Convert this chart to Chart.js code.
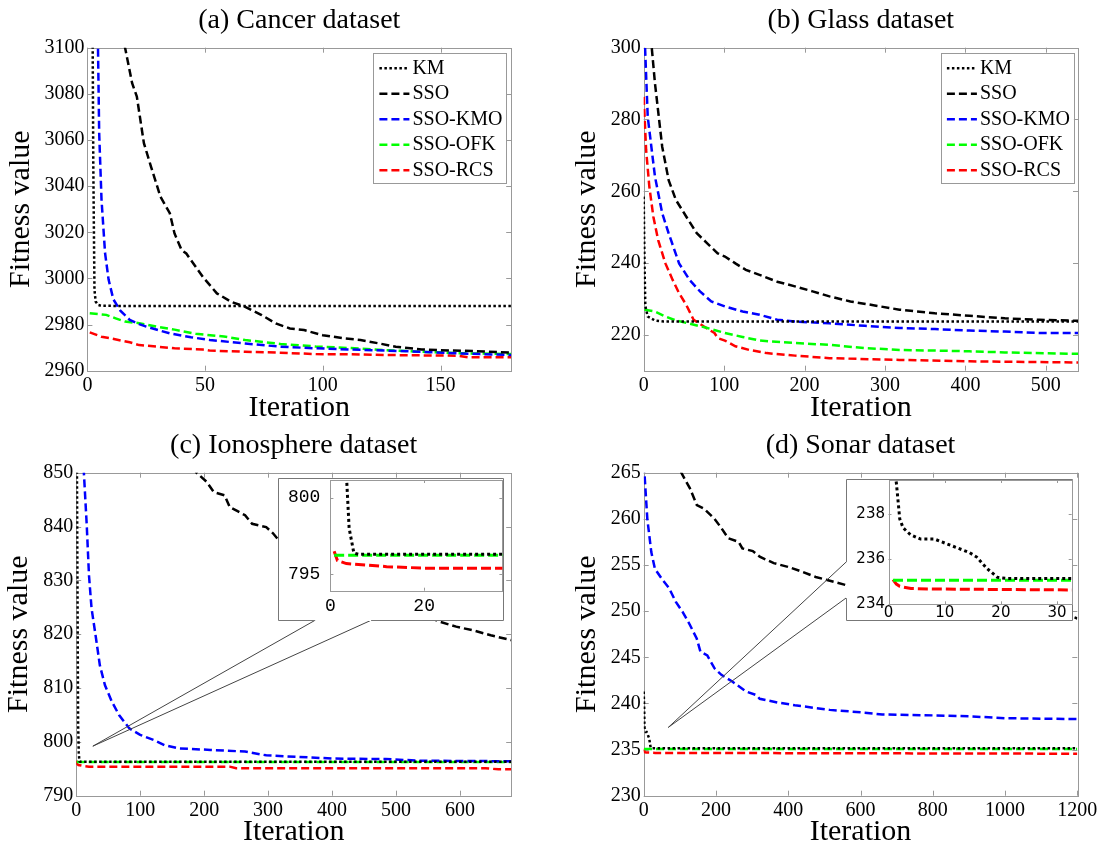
<!DOCTYPE html>
<html>
<head>
<meta charset="utf-8">
<script src="https://cdn.jsdelivr.net/npm/chart.js@4.4.0/dist/chart.umd.min.js"></script>
<style>
  html, body { margin: 0; padding: 0; background: #fff; }
  #page { position: relative; width: 1100px; height: 849px; overflow: hidden; }
  .panel { position: absolute; }
  canvas { display: block; }
</style>
</head>
<body>
<div id="page">
  <div class="panel" style="left:0;top:0"><canvas id="chartA" width="550" height="425"></canvas></div>
  <div class="panel" style="left:550px;top:0"><canvas id="chartB" width="550" height="425"></canvas></div>
  <div class="panel" style="left:0;top:425px"><canvas id="chartC" width="550" height="424"></canvas></div>
  <div class="panel" style="left:550px;top:425px"><canvas id="chartD" width="550" height="424"></canvas></div>
  <div class="panel" style="left:278px;top:478px"><canvas id="insetC" width="226" height="143"></canvas></div>
  <div class="panel" style="left:846px;top:479px"><canvas id="insetD" width="227" height="142"></canvas></div>
</div>
<script>
// series names and looks
var seriesNames = ["KM", "SSO", "SSO-KMO", "SSO-OFK", "SSO-RCS"];
var seriesColors = ["#000000", "#000000", "#0000ff", "#00ff00", "#ff0000"];

// (a) Cancer dataset
var cancerKmIter = [0, 2, 2.5, 3, 3.5, 4.5, 6, 180];
var cancerKm = [3300, 3150, 3050, 2995, 2990, 2988.5, 2988.1, 2988];
var cancerSsoIter = [0, 5, 10, 16, 19, 21, 24, 27, 31, 35, 37, 40, 42, 45, 49, 55, 61, 67, 74, 80, 86, 92, 100, 109, 116, 124, 131, 142, 150, 164, 180];
var cancerSso = [3350, 3220, 3150, 3100, 3084.6, 3078.8, 3058.6, 3048.5, 3035.5, 3028.3, 3019.5, 3012.3, 3010.8, 3006.5, 3000.7, 2993.5, 2989.9, 2987.7, 2984.1, 2980.5, 2978.3, 2977.6, 2975.4, 2974, 2973.3, 2971.8, 2970.4, 2969.2, 2968.9, 2968.5, 2967.8];
var cancerKmoIter = [0, 3, 4.5, 5, 6, 7.5, 9, 11, 14, 18, 22, 25, 30, 35, 44, 52, 67, 82, 97, 112, 127, 142, 157, 180];
var cancerKmo = [3500, 3200, 3100, 3063, 3034, 3011, 2999.5, 2991, 2986, 2982, 2980.2, 2979.1, 2977.6, 2976.2, 2974.5, 2973.3, 2971.8, 2970.4, 2969.7, 2969.2, 2968.7, 2968.2, 2967.5, 2966.8];
var cancerOfkIter = [1, 8, 12, 16, 22, 30, 37, 46, 58, 67, 82, 97, 112, 127, 142, 157, 180];
var cancerOfk = [2984.9, 2984.2, 2982.7, 2981.3, 2980.6, 2979, 2977.8, 2976, 2974.8, 2973.3, 2971.6, 2970.5, 2969.8, 2968.9, 2968.2, 2967.6, 2967.2];
var cancerRcsIter = [1, 6, 10, 18, 22, 30, 37, 49, 52, 67, 82, 97, 112, 127, 157, 162, 180];
var cancerRcs = [2976.6, 2974.7, 2974, 2972.3, 2971.1, 2970.4, 2969.7, 2969.2, 2968.7, 2968.2, 2967.8, 2967.2, 2967.1, 2966.8, 2966.5, 2965.8, 2965.8];

// (b) Glass dataset
var glassKmIter = [0, 1, 2, 5, 14, 25, 540];
var glassKm = [258.5, 240, 228, 225.1, 224, 223.7, 223.7];
var glassSsoIter = [0, 5, 10, 14, 23, 31, 40, 53, 66, 79, 92, 101, 114, 127, 144, 166, 188, 210, 231, 257, 284, 318, 362, 405, 449, 492, 540];
var glassSso = [360, 325, 300, 290.1, 272.4, 263.1, 257.6, 252.9, 248.3, 245.5, 242.7, 241.8, 239.9, 238.1, 236.7, 234.8, 233.5, 232.1, 230.7, 229.3, 228.3, 227, 226, 225.3, 224.6, 224.2, 223.9];
var glassKmoIter = [0, 1.7, 5, 10, 14, 23, 31, 44, 57, 70, 84, 101, 123, 144, 166, 188, 231, 275, 318, 362, 405, 449, 492, 540];
var glassKmo = [320, 300, 280.8, 271.5, 264.1, 253.9, 248.3, 239.9, 235.3, 232.1, 229.3, 227.9, 226.5, 225.6, 224.2, 223.7, 223.2, 222.5, 221.9, 221.6, 221.2, 220.9, 220.5, 220.5];
var glassOfkIter = [1, 14, 27, 40, 57, 79, 101, 123, 144, 188, 231, 275, 318, 362, 405, 449, 540];
var glassOfk = [227, 226.5, 225.1, 224, 223.1, 221.9, 220.5, 219.4, 218.4, 217.7, 217.2, 216.3, 215.8, 215.6, 215.4, 215.1, 214.7];
var glassRcsIter = [0, 3, 7, 12, 18, 27, 36, 44, 53, 62, 75, 88, 92, 101, 114, 131, 153, 188, 231, 318, 405, 540];
var glassRcs = [286.3, 271.5, 261.3, 252.9, 246.4, 239.9, 235.3, 231.6, 228.3, 224.2, 222.3, 220.5, 219.1, 218.4, 216.8, 215.8, 214.9, 214.2, 213.5, 213, 212.6, 212.3];

// (c) Ionosphere dataset
var ionoKmIter = [0, 3, 3.5, 4, 5, 6, 680];
var ionoKm = [880, 803, 801, 798, 796.4, 796.3, 796.3];
var ionoSsoIter = [0, 100, 150, 188, 204, 215, 232, 240, 253, 264, 275, 297, 308, 317, 400, 480, 566, 594, 621, 648, 680];
var ionoSso = [980, 875, 860, 850, 848.3, 846.4, 845.8, 843.6, 842.8, 842.1, 840.5, 839.9, 838.7, 837.4, 832, 827, 822.4, 821.4, 820.7, 819.8, 818.9];
var ionoKmoIter = [0, 12, 16.5, 20, 24, 31, 37, 45, 56, 67, 83, 100, 122, 138, 160, 210, 264, 297, 347, 402, 484, 539, 680];
var ionoKmo = [900, 850, 840.2, 830.9, 824.8, 819.2, 814.2, 810.5, 807.4, 805, 802.5, 801.3, 800.3, 799.4, 798.8, 798.5, 798.2, 797.5, 797.2, 796.9, 796.8, 796.5, 796.4];
var ionoOfkIter = [0.8, 680];
var ionoOfk = [796.25, 796.25];
var ionoRcsIter = [0.8, 1.5, 3.4, 8, 12, 20, 240, 250, 640, 660, 680];
var ionoRcs = [796.5, 795.9, 795.7, 795.6, 795.5, 795.4, 795.4, 795.1, 795.1, 794.9, 794.9];
var ionoZoomPoint = [26, 799.2];

// (d) Sonar dataset
var sonarKmIter = [0, 1, 1.4, 1.7, 2, 2.6, 3.9, 5.7, 8.2, 11.3, 14.4, 15.7, 17.5, 19.4, 21, 1200];
var sonarKm = [241.3, 240, 239.4, 238.6, 237.8, 237.4, 237.1, 236.9, 236.9, 236.6, 236.3, 236.1, 235.6, 235.2, 235.15, 235.15];
var sonarSsoIter = [0, 50, 104, 118, 128, 147, 167, 196, 215, 234, 263, 273, 302, 321, 360, 399, 437, 476, 505, 600, 800, 1000, 1187, 1200];
var sonarSso = [300, 280, 265, 264, 263.3, 261.5, 261.1, 260, 259, 257.9, 257.5, 256.8, 256.5, 255.9, 255.2, 254.8, 254.3, 253.7, 253.4, 252.4, 251, 250, 249.4, 249.2];
var sonarKmoIter = [0, 2, 10, 21, 31, 50, 70, 89, 108, 128, 147, 157, 176, 196, 215, 244, 283, 312, 321, 370, 418, 476, 515, 612, 660, 805, 902, 999, 1200];
var sonarKmo = [275, 265, 260, 256.4, 254.6, 253.5, 252.5, 251, 249.9, 248.5, 247, 245.6, 245.2, 243.8, 243.1, 242.4, 241.3, 240.9, 240.5, 240.1, 239.8, 239.5, 239.3, 239, 238.8, 238.7, 238.6, 238.4, 238.3];
var sonarOfkIter = [0.8, 1200];
var sonarOfk = [235.07, 235.07];
var sonarRcsIter = [0.8, 1.4, 2, 4, 8, 32, 1200];
var sonarRcs = [235.1, 234.9, 234.8, 234.7, 234.68, 234.64, 234.55];
var sonarZoomPoint = [68, 237.4];

var serif = "'Liberation Serif', 'Times New Roman', serif";
Chart.defaults.font.family = serif;
Chart.defaults.color = "#000";

function makeDatasets(iters, vals, width, dotDash, lineDash) {
  var sets = [];
  for (var i = 0; i < seriesNames.length; i++) {
    var pts = [];
    for (var j = 0; j < iters[i].length; j++) {
      pts.push({ x: iters[i][j], y: vals[i][j] });
    }
    sets.push({
      label: seriesNames[i],
      data: pts,
      borderColor: seriesColors[i],
      borderWidth: width,
      borderDash: i === 0 ? dotDash : lineDash,
      borderCapStyle: "butt",
      pointRadius: 0,
      fill: false,
      tension: 0
    });
  }
  return sets;
}

// plain numbers, no thousands separator
function plainTick(v) { return String(v); }

// box round the plot with small inward ticks on every side
var frameTicks = {
  id: "frameTicks",
  beforeDatasetsDraw: function (chart, args, opts) {
    var a = chart.chartArea, ctx = chart.ctx, len = opts.len || 4;
    var xs = chart.scales.x, ys = chart.scales.y;
    ctx.save();
    ctx.strokeStyle = opts.color || "#999";
    ctx.lineWidth = 1;
    ctx.beginPath();
    xs.ticks.forEach(function (t) {
      var px = Math.round(xs.getPixelForValue(t.value)) + 0.5;
      ctx.moveTo(px, a.bottom); ctx.lineTo(px, a.bottom - len);
      ctx.moveTo(px, a.top); ctx.lineTo(px, a.top + len);
    });
    ys.ticks.forEach(function (t) {
      var py = Math.round(ys.getPixelForValue(t.value)) + 0.5;
      ctx.moveTo(a.left, py); ctx.lineTo(a.left + len, py);
      ctx.moveTo(a.right, py); ctx.lineTo(a.right - len, py);
    });
    ctx.stroke();
    ctx.strokeRect(Math.round(a.left) + 0.5, Math.round(a.top) + 0.5, Math.round(a.width), Math.round(a.height));
    ctx.restore();
  }
};

// legend drawn inside the plot, like the matlab one
var boxLegend = {
  id: "boxLegend",
  afterDatasetsDraw: function (chart, args, o) {
    if (!o.w) return;
    var ctx = chart.ctx;
    ctx.save();
    ctx.fillStyle = "#fff";
    ctx.fillRect(o.x, o.y, o.w, o.h);
    ctx.strokeStyle = "#999";
    ctx.lineWidth = 1;
    ctx.strokeRect(Math.round(o.x) + 0.5, Math.round(o.y) + 0.5, Math.round(o.w), Math.round(o.h));
    ctx.font = "20px " + serif;
    ctx.textBaseline = "middle";
    chart.data.datasets.forEach(function (ds, i) {
      var y = o.y + o.first + i * o.row;
      ctx.beginPath();
      ctx.setLineDash(ds.borderDash);
      ctx.strokeStyle = ds.borderColor;
      ctx.lineWidth = ds.borderWidth;
      ctx.moveTo(o.x + o.lineStart, y);
      ctx.lineTo(o.x + o.lineEnd, y);
      ctx.stroke();
      ctx.setLineDash([]);
      ctx.fillStyle = "#000";
      ctx.fillText(ds.label, o.x + o.textStart, y);
    });
    ctx.restore();
  }
};

// the two lines from the zoomed spot to the inset box
var callout = {
  id: "callout",
  afterDraw: function (chart, args, o) {
    if (!o.to) return;
    var ctx = chart.ctx;
    var ax = chart.scales.x.getPixelForValue(o.at[0]);
    var ay = chart.scales.y.getPixelForValue(o.at[1]);
    ctx.save();
    ctx.strokeStyle = "#444";
    ctx.lineWidth = 1;
    ctx.beginPath();
    o.to.forEach(function (p) {
      ctx.moveTo(ax, ay);
      ctx.lineTo(p[0], p[1]);
    });
    ctx.stroke();
    ctx.restore();
  }
};

// white inset background and its outline, open where the callout joins
var insetBox = {
  id: "insetBox",
  beforeDraw: function (chart, args, o) {
    var ctx = chart.ctx, w = chart.width, h = chart.height;
    ctx.save();
    ctx.fillStyle = "#fff";
    ctx.fillRect(0, 0, w, h);
    ctx.strokeStyle = "#777";
    ctx.lineWidth = 1;
    var l = 0.5, t = 0.5, r = w - 0.5, b = h - 0.5;
    ctx.beginPath();
    if (o.side === "bottom") {
      ctx.moveTo(l + o.from, b); ctx.lineTo(l, b); ctx.lineTo(l, t);
      ctx.lineTo(r, t); ctx.lineTo(r, b); ctx.lineTo(l + o.to, b);
    } else {
      ctx.moveTo(l, t + o.from); ctx.lineTo(l, t); ctx.lineTo(r, t);
      ctx.lineTo(r, b); ctx.lineTo(l, b); ctx.lineTo(l, t + o.to);
    }
    ctx.stroke();
    ctx.restore();
  }
};

var tickFont = { family: serif, size: 20 };

function mainChart(id, p) {
  var area = p.area; // left, top, right, bottom of the plot inside the canvas
  return new Chart(document.getElementById(id), {
    type: "line",
    data: { datasets: makeDatasets(p.iters, p.vals, 2.5, [2.5, 2.5], [8, 4]) },
    options: {
      responsive: false,
      animation: false,
      layout: { padding: { left: 0, right: 550 - area[2], top: 0, bottom: 0 } },
      scales: {
        x: {
          type: "linear",
          min: 0,
          max: p.xMax,
          grid: { display: false, drawTicks: false },
          border: { display: false },
          ticks: { stepSize: p.xStep, includeBounds: false, font: tickFont, padding: 3, maxRotation: 0, autoSkip: false, callback: plainTick },
          title: { display: true, text: "Iteration", font: { family: serif, size: 30, lineHeight: 1 }, padding: { top: 0, bottom: 1.5 } },
          afterFit: function (s) { s.height = p.h - area[3]; s.paddingLeft = 0; s.paddingRight = 0; }
        },
        y: {
          type: "linear",
          min: p.yMin,
          max: p.yMax,
          grid: { display: false, drawTicks: false },
          border: { display: false },
          ticks: { stepSize: p.yStep, includeBounds: false, font: tickFont, padding: 3, autoSkip: false, callback: plainTick },
          title: { display: true, text: "Fitness value", font: { family: serif, size: 30, lineHeight: 1 }, padding: { top: p.yTitlePad, bottom: 0 } },
          afterFit: function (s) { s.width = area[0]; s.paddingTop = 0; s.paddingBottom = 0; }
        }
      },
      plugins: {
        legend: { display: false },
        tooltip: { enabled: false },
        title: {
          display: true,
          text: p.title,
          fullSize: false,
          font: { family: serif, size: 28, weight: "normal", lineHeight: 1.2 },
          padding: { top: 4, bottom: area[1] - 37.6 }
        },
        frameTicks: { len: 5, color: "#999" },
        boxLegend: p.legend || {},
        callout: p.callout || {}
      }
    },
    plugins: [frameTicks, boxLegend, callout]
  });
}

function insetChart(id, p) {
  var area = p.area;
  return new Chart(document.getElementById(id), {
    type: "line",
    data: { datasets: makeDatasets(p.iters, p.vals, 3, [3, 3], [10, 4]) },
    options: {
      responsive: false,
      animation: false,
      layout: { padding: { left: 0, right: p.w - area[2], top: area[1], bottom: 0 } },
      scales: {
        x: {
          type: "linear",
          min: 0,
          max: p.xMax,
          grid: { display: false, drawTicks: false },
          border: { display: false },
          ticks: { stepSize: p.xStep, includeBounds: false, font: p.font, padding: p.xPad, maxRotation: 0, autoSkip: false, callback: plainTick },
          afterFit: function (s) { s.height = p.h - area[3]; s.paddingLeft = 0; s.paddingRight = 0; }
        },
        y: {
          type: "linear",
          min: p.yMin,
          max: p.yMax,
          grid: { display: false, drawTicks: false },
          border: { display: false },
          ticks: { stepSize: p.yStep, includeBounds: false, font: p.font, padding: p.yPad, autoSkip: false, callback: plainTick },
          afterFit: function (s) { s.width = area[0]; s.paddingTop = 0; s.paddingBottom = 0; }
        }
      },
      plugins: {
        legend: { display: false },
        tooltip: { enabled: false },
        title: { display: false },
        frameTicks: { len: 3, color: "#999" },
        insetBox: p.gap
      }
    },
    plugins: [insetBox, frameTicks]
  });
}

var legendBox = { y: 53, w: 133, h: 130, first: 15.3, row: 25.5, lineStart: 6, lineEnd: 36, textStart: 39 };

mainChart("chartA", {
  title: "(a) Cancer dataset",
  h: 425,
  area: [87.4, 47.7, 511.2, 370.7],
  yTitlePad: 6,
  xMax: 180, xStep: 50,
  yMin: 2960, yMax: 3100, yStep: 20,
  iters: [cancerKmIter, cancerSsoIter, cancerKmoIter, cancerOfkIter, cancerRcsIter],
  vals: [cancerKm, cancerSso, cancerKmo, cancerOfk, cancerRcs],
  legend: Object.assign({ x: 373.4 }, legendBox)
});

mainChart("chartB", {
  title: "(b) Glass dataset",
  h: 425,
  area: [93.7, 47.7, 528, 370.7],
  yTitlePad: 21.7,
  xMax: 540, xStep: 100,
  yMin: 210, yMax: 300, yStep: 20,
  iters: [glassKmIter, glassSsoIter, glassKmoIter, glassOfkIter, glassRcsIter],
  vals: [glassKm, glassSso, glassKmo, glassOfk, glassRcs],
  legend: Object.assign({ x: 390.9 }, legendBox)
});

// inset boxes, page position and size
var insetC = { left: 278, top: 478, w: 226, h: 143, gapFrom: 36.7, gapTo: 92.6 };
var insetD = { left: 846, top: 479, w: 227, h: 142, gapFrom: 82.7, gapTo: 118.7 };

mainChart("chartC", {
  title: "(c) Ionosphere dataset",
  h: 424,
  area: [76.2, 47.7, 511.2, 370.7],
  yTitlePad: 4.2,
  xMax: 680, xStep: 100,
  yMin: 790, yMax: 850, yStep: 10,
  iters: [ionoKmIter, ionoSsoIter, ionoKmoIter, ionoOfkIter, ionoRcsIter],
  vals: [ionoKm, ionoSso, ionoKmo, ionoOfk, ionoRcs],
  callout: {
    at: ionoZoomPoint,
    to: [[insetC.left + insetC.gapFrom, insetC.top - 425 + insetC.h - 0.5],
         [insetC.left + insetC.gapTo, insetC.top - 425 + insetC.h - 0.5]]
  }
});

mainChart("chartD", {
  title: "(d) Sonar dataset",
  h: 424,
  area: [93.7, 47.7, 527.3, 370.7],
  yTitlePad: 21.7,
  xMax: 1200, xStep: 200,
  yMin: 230, yMax: 265, yStep: 5,
  iters: [sonarKmIter, sonarSsoIter, sonarKmoIter, sonarOfkIter, sonarRcsIter],
  vals: [sonarKm, sonarSso, sonarKmo, sonarOfk, sonarRcs],
  callout: {
    at: sonarZoomPoint,
    to: [[insetD.left - 550 + 0.5, insetD.top - 425 + insetD.gapFrom],
         [insetD.left - 550 + 0.5, insetD.top - 425 + insetD.gapTo]]
  }
});

insetChart("insetC", {
  w: insetC.w, h: insetC.h,
  area: [52.4, 2, 224.4, 112.7],
  xMax: 36.7, xStep: 20,
  yMin: 793.93, yMax: 801.15, yStep: 5,
  font: { family: "'Liberation Mono', monospace", size: 18 },
  xPad: 5, yPad: 10,
  iters: [ionoKmIter, ionoSsoIter, ionoKmoIter, ionoOfkIter, ionoRcsIter],
  vals: [ionoKm, ionoSso, ionoKmo, ionoOfk, ionoRcs],
  gap: { side: "bottom", from: insetC.gapFrom, to: insetC.gapTo }
});

insetChart("insetD", {
  w: insetD.w, h: insetD.h,
  area: [42.5, 1, 225.7, 125.3],
  xMax: 32.6, xStep: 10,
  yMin: 234, yMax: 239.53, yStep: 2,
  font: { family: "'DejaVu Sans', sans-serif", size: 15 },
  xPad: 0, yPad: 3.5,
  iters: [sonarKmIter, sonarSsoIter, sonarKmoIter, sonarOfkIter, sonarRcsIter],
  vals: [sonarKm, sonarSso, sonarKmo, sonarOfk, sonarRcs],
  gap: { side: "left", from: insetD.gapFrom, to: insetD.gapTo }
});
</script>
</body>
</html>
